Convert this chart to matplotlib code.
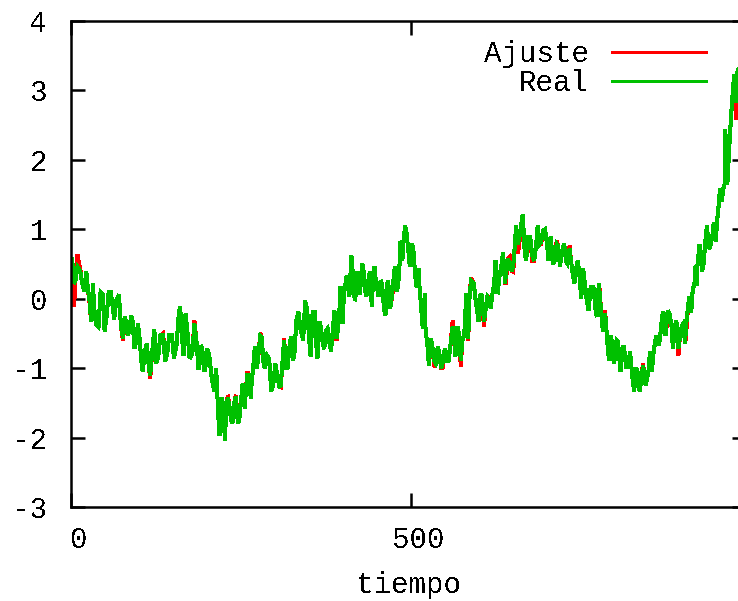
import numpy as np
import matplotlib
matplotlib.use("Agg")
import matplotlib.pyplot as plt
from matplotlib.transforms import ScaledTranslation

# Time of each short window of the series
t_seg = [3, 8, 15, 21, 26, 31, 35, 42, 48, 54, 60, 65, 72, 78, 82, 87, 92, 97, 102, 107,
         113, 118, 124, 130, 137, 143, 150, 157, 162, 167, 173, 180, 186, 190, 195, 199, 205, 212, 216, 220,
         225, 229, 234, 239, 244, 249, 254, 258, 263, 267, 272, 277, 282, 287, 293, 299, 305, 310, 315, 320,
         325, 330, 336, 343, 349, 354, 360, 364, 369, 374, 379, 384, 389, 393, 398, 403, 407, 411, 415, 419,
         423, 427, 432, 436, 441, 445, 449, 454, 459, 464, 468, 474, 478, 483, 486, 490, 495, 500, 505, 510,
         514, 519, 523, 528, 533, 538, 543, 548, 552, 557, 563, 567, 572, 577, 583, 587, 594, 601, 606, 611,
         616, 621, 626, 632, 637, 641, 647, 652, 656, 662, 666, 671, 677, 683, 688, 693, 699, 704, 708, 713,
         718, 722, 727, 732, 737, 742, 747, 752, 757, 763, 770, 775, 779, 784, 788, 793, 797, 801, 806, 810,
         815, 821, 825, 830, 835, 840, 844, 849, 853, 858, 863, 868, 873, 877, 882, 887, 892, 897, 902, 906,
         911, 916, 919, 923, 927, 932, 937, 942, 947, 952, 956, 961, 964, 970, 977, 981]

# Observed series: upper and lower value inside each window
real_hi = [0.59, 0.46, 0.40, 0.39, 0.17, 0.22, -0.07, 0.10, 0.07, 0.10, 0.10, -0.03, 0.06, -0.26, -0.32, -0.24, -0.32, -0.36, -0.53, -0.76,
           -0.65, -0.76, -0.44, -0.53, -0.53, -0.53, -0.53, -0.23, -0.11, -0.22, -0.50, -0.36, -0.60, -0.67, -0.76, -0.72, -0.83, -1.00, -1.22, -1.43,
           -1.51, -1.43, -1.51, -1.48, -1.41, -1.43, -1.22, -1.10, -1.10, -0.93, -0.69, -0.53, -0.55, -0.82, -0.86, -0.93, -1.12, -0.86, -0.60, -0.69,
           -0.55, -0.32, -0.19, -0.03, -0.17, -0.19, -0.19, -0.33, -0.40, -0.46, -0.43, -0.40, -0.17, -0.26, 0.17, 0.26, 0.33, 0.62, 0.50, 0.17,
           0.39, 0.50, 0.39, 0.26, 0.39, 0.46, 0.33, 0.26, 0.22, 0.22, 0.26, 0.39, 0.46, 0.67, 0.83, 1.05, 0.96, 0.79, 0.72, 0.43,
           0.19, 0.07, -0.43, -0.57, -0.69, -0.69, -0.76, -0.75, -0.72, -0.65, -0.40, -0.40, -0.50, -0.53, 0.07, 0.26, 0.22, 0.07, 0.04, 0.03,
           0.00, 0.22, 0.55, 0.50, 0.67, 0.57, 0.50, 0.83, 1.05, 1.15, 1.21, 0.89, 0.89, 0.79, 1.05, 0.98, 1.00, 0.89, 0.79, 0.79,
           0.76, 0.72, 0.79, 0.72, 0.55, 0.46, 0.55, 0.43, 0.26, 0.17, 0.17, 0.22, 0.10, -0.22, -0.29, -0.53, -0.62, -0.60, -0.62, -0.69,
           -0.69, -0.76, -0.89, -1.00, -1.05, -0.96, -1.03, -0.98, -0.76, -0.60, -0.53, -0.26, -0.19, -0.17, -0.22, -0.40, -0.32, -0.39, -0.36, -0.14,
           0.03, 0.24, 0.47, 0.76, 0.76, 0.86, 1.05, 0.89, 1.10, 1.41, 1.58, 1.68, 2.44, 2.70, 3.23, 3.33]
real_lo = [0.22, 0.26, 0.22, 0.11, -0.04, -0.32, -0.36, -0.40, -0.47, -0.24, -0.14, -0.29, -0.40, -0.57, -0.53, -0.46, -0.72, -0.62, -0.89, -1.05,
           -0.98, -1.10, -0.93, -0.82, -0.90, -0.79, -0.86, -0.65, -0.57, -0.82, -0.86, -0.79, -1.00, -1.00, -1.05, -1.00, -1.10, -1.33, -1.84, -1.97,
           -2.04, -1.77, -1.75, -1.79, -1.79, -1.75, -1.58, -1.43, -1.43, -1.25, -1.00, -0.82, -0.96, -1.00, -1.33, -1.25, -1.26, -1.25, -1.00, -1.00,
           -0.89, -0.82, -0.43, -0.60, -0.60, -0.83, -0.76, -0.86, -0.65, -0.72, -0.65, -0.76, -0.57, -0.53, -0.36, 0.07, 0.14, 0.03, 0.10, -0.03,
           0.07, 0.14, 0.07, 0.03, -0.11, 0.10, 0.14, 0.03, -0.14, -0.24, -0.14, 0.07, 0.11, 0.22, 0.55, 0.76, 0.67, 0.46, 0.32, 0.17,
           -0.17, -0.43, -0.69, -0.96, -0.90, -0.93, -1.00, -0.93, -0.89, -0.89, -0.65, -0.83, -0.89, -0.60, -0.57, -0.07, -0.04, -0.32, -0.32, -0.19,
           -0.14, 0.04, 0.07, 0.33, 0.22, 0.32, 0.40, 0.47, 0.79, 0.93, 0.67, 0.55, 0.62, 0.55, 0.79, 0.82, 0.76, 0.55, 0.50, 0.55,
           0.46, 0.57, 0.53, 0.50, 0.33, 0.22, 0.29, 0.00, 0.00, -0.17, -0.14, -0.26, -0.26, -0.47, -0.69, -0.89, -0.93, -0.89, -0.93, -1.05,
           -0.98, -0.98, -1.19, -1.33, -1.33, -1.19, -1.25, -1.15, -1.05, -0.82, -0.67, -0.57, -0.53, -0.40, -0.40, -0.72, -0.72, -0.57, -0.65, -0.40,
           -0.19, 0.11, 0.19, 0.47, 0.39, 0.50, 0.72, 0.76, 0.82, 1.12, 1.41, 1.58, 1.65, 2.20, 2.83, 3.23]

# Fitted series: upper and lower value inside each window
ajuste_hi = [0.59, 0.63, 0.43, 0.39, 0.17, 0.22, -0.07, 0.10, 0.07, 0.10, 0.10, -0.03, 0.06, -0.26, -0.32, -0.24, -0.32, -0.36, -0.53, -0.76,
             -0.65, -0.76, -0.44, -0.53, -0.50, -0.53, -0.53, -0.23, -0.11, -0.22, -0.50, -0.32, -0.60, -0.67, -0.76, -0.72, -0.83, -1.00, -1.22, -1.43,
             -1.51, -1.39, -1.51, -1.48, -1.39, -1.43, -1.22, -1.05, -1.10, -0.93, -0.69, -0.50, -0.55, -0.82, -0.86, -0.93, -1.10, -0.86, -0.58, -0.69,
             -0.55, -0.32, -0.19, -0.03, -0.17, -0.19, -0.19, -0.33, -0.40, -0.46, -0.43, -0.40, -0.17, -0.26, 0.17, 0.26, 0.33, 0.62, 0.50, 0.17,
             0.39, 0.50, 0.39, 0.26, 0.39, 0.46, 0.33, 0.26, 0.22, 0.22, 0.26, 0.39, 0.46, 0.67, 0.83, 1.05, 0.96, 0.79, 0.72, 0.43,
             0.19, 0.07, -0.43, -0.57, -0.69, -0.69, -0.76, -0.75, -0.72, -0.65, -0.32, -0.40, -0.50, -0.53, 0.07, 0.29, 0.22, 0.07, 0.04, 0.04,
             0.00, 0.22, 0.55, 0.50, 0.67, 0.57, 0.60, 0.83, 1.05, 1.15, 1.21, 0.89, 0.89, 0.79, 1.05, 0.98, 1.00, 0.89, 0.79, 0.83,
             0.76, 0.72, 0.79, 0.76, 0.55, 0.46, 0.55, 0.43, 0.26, 0.17, 0.17, 0.22, 0.14, -0.17, -0.29, -0.53, -0.62, -0.60, -0.62, -0.69,
             -0.69, -0.76, -0.89, -1.00, -1.05, -0.93, -1.03, -0.98, -0.76, -0.60, -0.53, -0.26, -0.19, -0.17, -0.22, -0.40, -0.32, -0.39, -0.36, -0.14,
             0.03, 0.24, 0.47, 0.76, 0.76, 0.86, 1.05, 0.89, 1.10, 1.41, 1.58, 1.68, 2.44, 2.70, 3.23, 3.33]
ajuste_lo = [-0.11, 0.26, 0.22, 0.11, -0.07, -0.32, -0.36, -0.40, -0.47, -0.24, -0.14, -0.29, -0.40, -0.60, -0.53, -0.46, -0.72, -0.62, -0.89, -1.05,
             -0.98, -1.15, -0.93, -0.82, -0.90, -0.79, -0.86, -0.65, -0.57, -0.82, -0.86, -0.79, -1.00, -1.00, -1.05, -1.00, -1.10, -1.33, -1.84, -1.97,
             -2.04, -1.77, -1.75, -1.79, -1.79, -1.75, -1.58, -1.43, -1.43, -1.25, -1.00, -0.84, -0.96, -1.00, -1.33, -1.25, -1.26, -1.27, -1.00, -1.00,
             -0.89, -0.82, -0.43, -0.60, -0.60, -0.83, -0.76, -0.86, -0.65, -0.72, -0.65, -0.76, -0.60, -0.53, -0.36, 0.07, 0.14, 0.03, 0.10, -0.03,
             0.07, 0.14, 0.07, 0.03, -0.11, 0.10, 0.14, 0.03, -0.14, -0.24, -0.14, 0.03, 0.11, 0.22, 0.55, 0.76, 0.67, 0.46, 0.32, 0.17,
             -0.17, -0.43, -0.69, -0.96, -0.98, -0.93, -1.00, -1.00, -0.89, -0.89, -0.65, -0.83, -0.98, -0.60, -0.60, -0.07, -0.04, -0.32, -0.40, -0.19,
             -0.14, 0.04, 0.07, 0.33, 0.22, 0.22, 0.40, 0.39, 0.65, 0.89, 0.67, 0.55, 0.55, 0.55, 0.79, 0.79, 0.76, 0.55, 0.50, 0.55,
             0.46, 0.57, 0.53, 0.50, 0.33, 0.22, 0.29, 0.00, 0.00, -0.17, -0.14, -0.26, -0.26, -0.47, -0.69, -0.89, -0.93, -0.89, -0.93, -1.05,
             -0.98, -0.98, -1.19, -1.33, -1.33, -1.19, -1.25, -1.15, -1.05, -0.82, -0.67, -0.57, -0.53, -0.47, -0.40, -0.72, -0.82, -0.57, -0.65, -0.55,
             -0.19, 0.11, 0.19, 0.47, 0.39, 0.50, 0.72, 0.76, 0.82, 1.12, 1.41, 1.58, 1.65, 2.20, 2.58, 3.23]

x_ticks = [0, 500]
y_ticks = [-3, -2, -1, 0, 1, 2, 3, 4]
x_range = (0, 993)
y_range = (-3, 4)

FONT = ["Liberation Mono", "DejaVu Sans Mono"]
plt.rcParams["font.family"] = FONT
plt.rcParams["axes.unicode_minus"] = False
plt.rcParams["text.antialiased"] = False


def zigzag(t, hi, lo):
    """Expand each window into a vertical stroke between its extremes."""
    xs, ys = [], []
    for i, (tt, h, l) in enumerate(zip(t, hi, lo)):
        first, second = (h, l) if i % 2 == 0 else (l, h)
        xs += [tt - 1.5, tt + 1.5]
        ys += [first, second]
    return np.array(xs, dtype=float), np.array(ys, dtype=float)


W, H, DPI = 738, 601, 100
fig = plt.figure(figsize=(W / DPI, H / DPI), dpi=DPI)
ax = fig.add_axes([71 / W, 1 - 507 / H, (746 - 71) / W, (507 - 21) / H])

lw = 2.2
xa, ya = zigzag(t_seg, ajuste_hi, ajuste_lo)
xr, yr = zigzag(t_seg, real_hi, real_lo)
ax.plot(xa, ya, color="#ff0000", lw=lw, solid_joinstyle="miter",
        solid_capstyle="butt", antialiased=False, label="Ajuste")
ax.plot(xr, yr, color="#00c000", lw=lw, solid_joinstyle="miter",
        solid_capstyle="butt", antialiased=False, label="Real")

ax.set_xlim(*x_range)
ax.set_ylim(*y_range)
ax.set_xticks(x_ticks)
ax.set_yticks(y_ticks)

for sp in ax.spines.values():
    sp.set_linewidth(1.8)
    sp.set_color("black")

fs = 21
ax.tick_params(axis="both", which="both", direction="in", length=10, width=1.8,
               top=True, right=True, labelsize=fs, colors="black")
ax.tick_params(axis="y", pad=17)
ax.tick_params(axis="x", pad=14)

# shift x tick labels a little to the right
shift = ScaledTranslation(8 / DPI, 0, fig.dpi_scale_trans)
for lab in ax.get_xticklabels():
    lab.set_transform(lab.get_transform() + shift)

ax.set_xlabel("tiempo", fontsize=fs, labelpad=12)

leg = ax.legend(loc="upper right", bbox_to_anchor=(707 / W, 1 - 40 / H),
                bbox_transform=fig.transFigure, frameon=False, markerfirst=False,
                fontsize=fs, handlelength=3.3, handletextpad=0.75,
                labelspacing=0.05, borderpad=0, borderaxespad=0)
for line in leg.get_lines():
    line.set_linewidth(2.0)
    line.set_antialiased(False)

fig.savefig("out.png", dpi=DPI)
